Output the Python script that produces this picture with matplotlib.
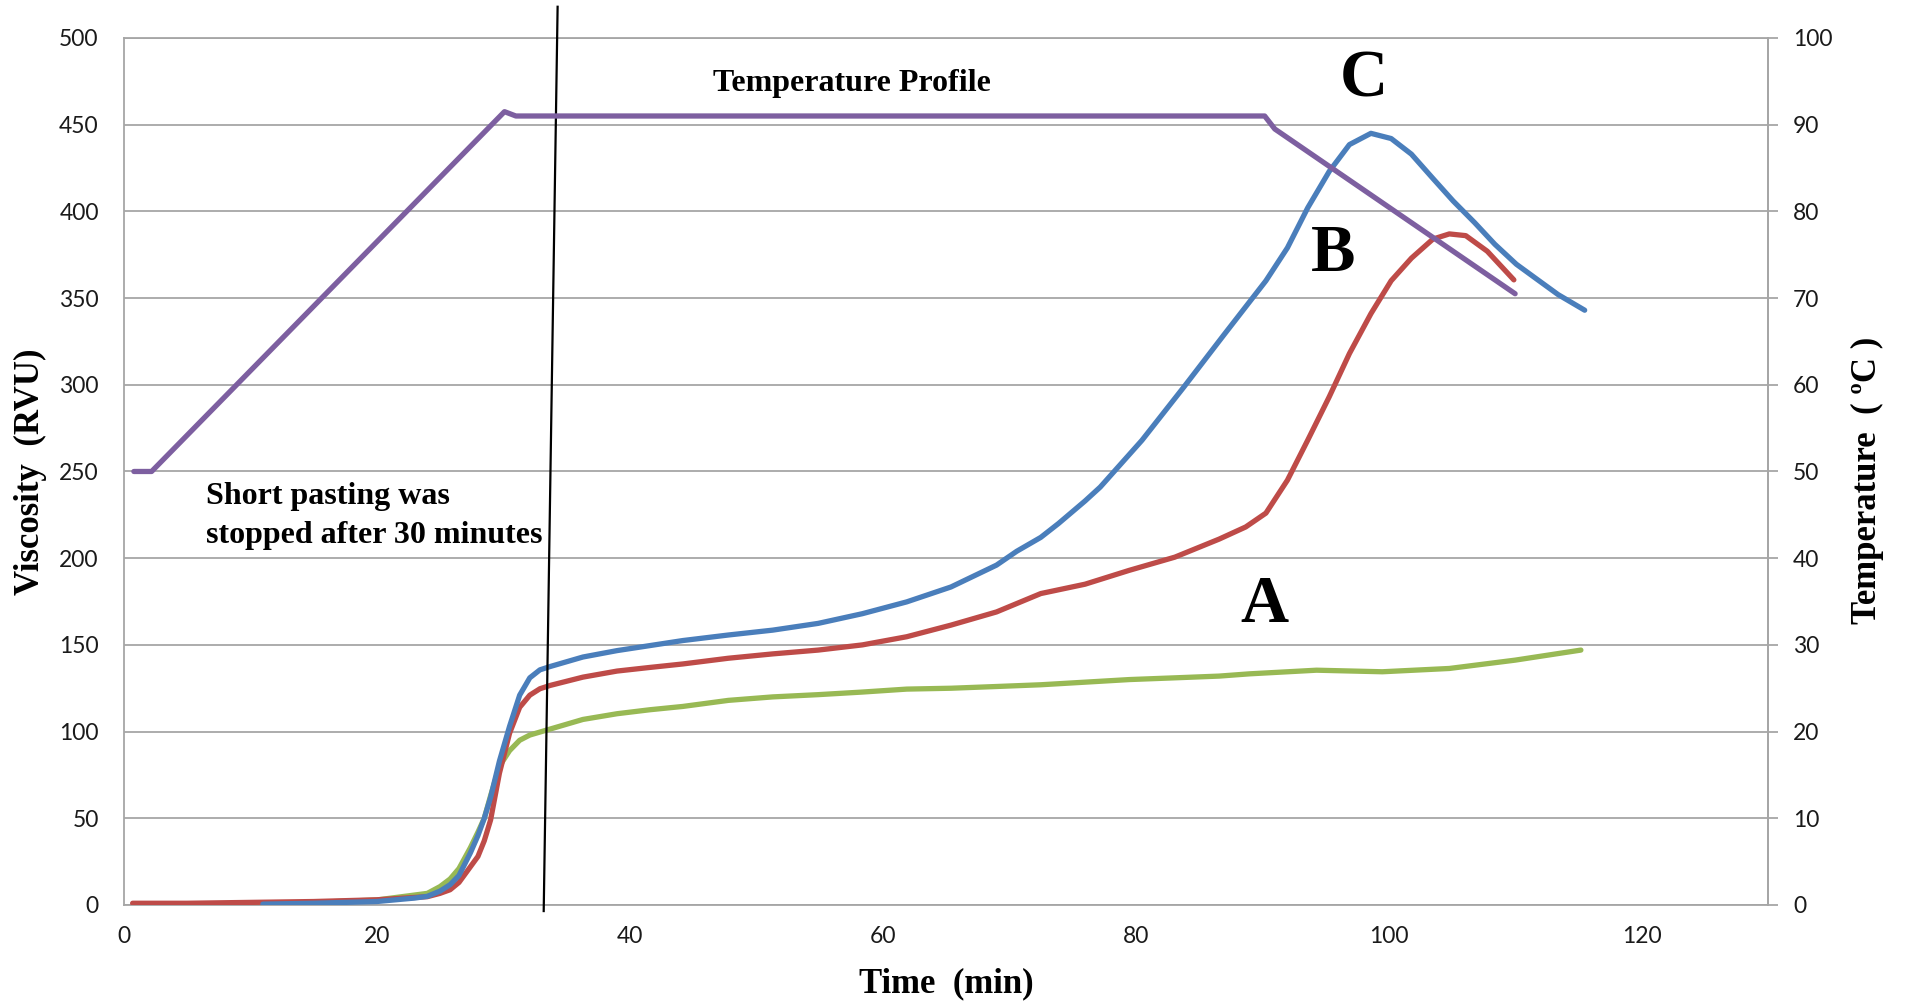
import matplotlib
matplotlib.use("Agg")
import matplotlib.pyplot as plt

# ---------------- data ----------------
time_c = [11, 15, 20, 23, 24, 25, 25.8, 26.5, 27.4, 28, 28.5, 29.0, 29.7, 30.5, 31.3, 32.1,
          32.9, 33.7, 36.3, 39.0, 41.6, 44.2, 47.8, 51.3, 54.9, 58.4, 61.9, 65.4, 69.0, 70.6,
          72.5, 73.9, 76.0, 77.2, 80.5, 83.8, 87.0, 90.3, 92.0, 93.6, 95.3, 96.9, 98.6, 100.2,
          101.8, 103.5, 105.1, 106.8, 108.4, 110.1, 111.7, 113.4, 115.5]
visc_c = [0.5, 1, 2, 4, 5, 8, 11.7, 17, 30, 40, 50, 62, 83, 103, 121, 131,
          135.6, 137.5, 143, 146.7, 149.6, 152.5, 155.7, 158.5, 162.4, 168, 174.8, 183.4, 196, 204,
          212, 220, 233, 241, 268, 298.6, 329, 360, 379, 402, 423, 438.5, 445, 442,
          433, 419, 406, 393.5, 381, 369.5, 361, 352, 343]

time_b = [0.7, 5, 10, 15, 20, 24, 25, 25.8, 26.5, 27.4, 28, 28.5, 29.0, 29.7, 30.5, 31.3,
          32.1, 32.9, 33.7, 36.3, 39.0, 41.6, 44.2, 47.8, 51.3, 54.9, 58.4, 61.9, 65.4, 69.0,
          72.5, 76.0, 79.5, 83.1, 86.6, 88.7, 90.3, 92.0, 93.6, 95.3, 96.9, 98.6, 100.2, 101.8,
          103.5, 104.8, 106.1, 107.8, 109.9]
visc_b = [1, 1, 1.5, 2, 3, 4.8, 6.7, 8.8, 13, 22, 28, 37, 49, 76, 99, 114,
          121, 124.7, 126.6, 131.4, 134.9, 137, 139, 142.3, 144.8, 147, 150, 154.7, 161.4, 169,
          179.6, 185, 193, 200.6, 211, 218, 226, 245, 268, 293, 318, 341, 360, 373,
          384, 387, 386, 377, 360.5]

time_a = [1, 5, 10, 15, 20, 24, 25, 25.8, 26.5, 27.4, 28, 28.5, 29.0, 29.7, 30.5, 31.3,
          32.1, 33.4, 36.3, 39.0, 41.6, 44.2, 47.8, 51.3, 54.9, 58.4, 61.9, 65.4, 69.0, 72.5,
          76.0, 79.5, 83.1, 86.6, 89.0, 94.3, 99.5, 104.8, 110.0, 115.2]
visc_a = [0, 0, 0.5, 1.5, 2.9, 6.7, 10.6, 15, 21, 33, 42, 50, 63, 80, 89, 95,
          98, 100.8, 107, 110.3, 112.6, 114.5, 118, 120, 121.3, 122.8, 124.5, 125, 126, 127,
          128.5, 130, 131, 132, 133.3, 135.4, 134.5, 136.4, 141.2, 147]

time_temp = [0.8, 2.2, 30.1, 31.0, 90.2, 91.0, 110.0]
temp_profile = [50, 50, 91.5, 91, 91, 89.5, 70.5]

cut_line_t = [33.2, 34.3]
cut_line_v = [-3.5, 518]

x_ticks = [0, 20, 40, 60, 80, 100, 120]
y_ticks = [0, 50, 100, 150, 200, 250, 300, 350, 400, 450, 500]
t_ticks = [0, 10, 20, 30, 40, 50, 60, 70, 80, 90, 100]

# ---------------- styling ----------------
BLUE = "#4A7EBB"
RED = "#BE4B48"
GREEN = "#98B954"
PURPLE = "#7D5FA0"
GRID = "#A6A6A6"
TICKFONT = "Lato"
SERIF = "Liberation Serif"
LW = 3.8

fig = plt.figure(figsize=(19.1, 10.07), dpi=100)
ax = fig.add_axes([0.0648, 0.1013, 0.8609, 0.861])
ax2 = ax.twinx()

ax.plot(time_a, visc_a, color=GREEN, lw=LW, solid_capstyle="round", zorder=3)
ax.plot(time_b, visc_b, color=RED, lw=LW, solid_capstyle="round", zorder=3)
ax.plot(time_c, visc_c, color=BLUE, lw=LW, solid_capstyle="round", zorder=4)
ax2.plot(time_temp, temp_profile, color=PURPLE, lw=LW, solid_capstyle="round", zorder=3)

ax.set_xlim(0, 130)
ax.set_ylim(0, 500)
ax2.set_ylim(0, 100)
ax.set_xticks(x_ticks)
ax.set_yticks(y_ticks)
ax2.set_yticks(t_ticks)

ax.grid(axis="y", color=GRID, lw=1.3)
ax.set_axisbelow(True)

for a in (ax, ax2):
    for s in a.spines.values():
        s.set_color(GRID)
        s.set_linewidth(1.3)
ax.spines["top"].set_visible(True)
ax2.spines["top"].set_visible(False)
ax2.spines["left"].set_visible(False)
ax2.spines["bottom"].set_visible(False)

ax.tick_params(axis="y", length=0, pad=18, labelsize=16.5, labelcolor="#1a1a1a")
ax.tick_params(axis="x", length=0, pad=15, labelsize=16.5, labelcolor="#1a1a1a")
ax2.tick_params(axis="y", length=7, width=1.3, color=GRID, pad=11, labelsize=16.5,
                labelcolor="#1a1a1a")
for lbl in ax.get_xticklabels() + ax.get_yticklabels() + ax2.get_yticklabels():
    lbl.set_fontfamily(TICKFONT)

ax.set_ylabel("Viscosity  (RVU)", fontfamily=SERIF, fontweight="bold", fontsize=25,
              va="center", ha="center")
ax.yaxis.set_label_coords(-0.057, 0.5)
ax.set_xlabel("Time  (min)", fontfamily=SERIF, fontweight="bold", fontsize=25,
              va="center", ha="center")
ax.xaxis.set_label_coords(0.5, -0.0911)
ax2.set_ylabel("Temperature  ( ºC )", fontfamily=SERIF, fontweight="bold", fontsize=25,
               rotation=90, va="center", ha="center")
ax2.yaxis.set_label_coords(1.0604, 0.49)

# cut-off line (extends beyond the plotting area)
ax.plot(cut_line_t, cut_line_v, color="black", lw=1.6, clip_on=False, zorder=6)

# annotations
ax.text(57.6, 473.5, "Temperature Profile", fontfamily=SERIF, fontweight="bold",
        fontsize=23, ha="center", va="center")
ax.text(6.5, 208.6, "Short pasting was\nstopped after 30 minutes", fontfamily=SERIF,
        fontweight="bold", fontsize=23, ha="left", va="baseline", linespacing=1.45)
ax.text(98.0, 475.5, "C", fontfamily=SERIF, fontweight="bold", fontsize=48,
        ha="center", va="center")
ax.text(95.6, 375.4, "B", fontfamily=SERIF, fontweight="bold", fontsize=48,
        ha="center", va="center")
ax.text(90.2, 172.5, "A", fontfamily=SERIF, fontweight="bold", fontsize=48,
        ha="center", va="center")

ax2.set_zorder(ax.get_zorder() + 1)
ax2.patch.set_visible(False)

fig.savefig("out.png", dpi=100)
